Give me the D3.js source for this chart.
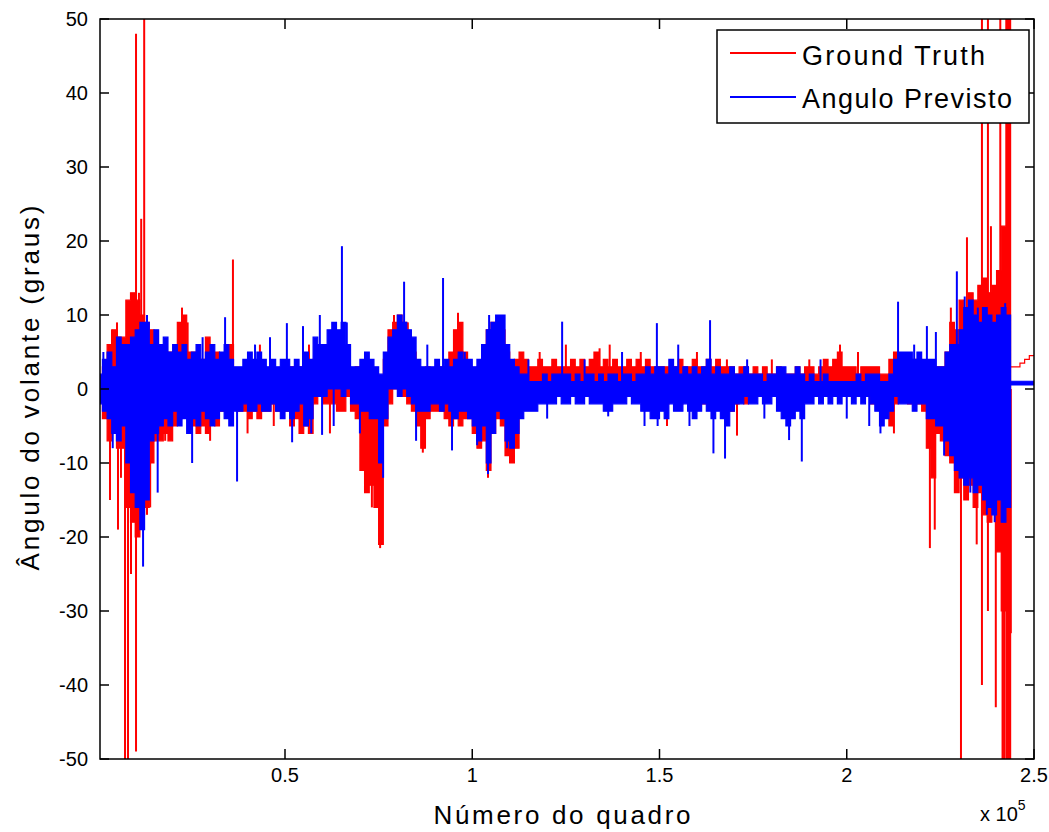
<!DOCTYPE html>
<html><head><meta charset="utf-8">
<script src="https://cdn.jsdelivr.net/npm/d3@7"></script>
<style>body{margin:0;background:#fff} svg{display:block}</style>
</head><body><svg id="c" width="1049" height="832"></svg>
<script>
// ---- data: envelope per bin of 1250 frames ----
const binSize = 1250;
const frameStart = 600, frameEnd = 250000;
const predLow = [
  -2,-3,-4,-6,-7,-5,-10,-14,-16,-19,-15,-7,-6,-5,-4,-5,-3,-5,-4,-6,
  -4,-5,-3,-4,-5,-4,-3,-4,-5,-3,-3,-2,-3,-3,-2,-3,-3,-2,-3,-4,
  -3,-4,-3,-2,-5,-4,-1,-1,-1,0,0,0,-1,0,-2,-2,-3,-3,-4,-4,
  -10,-4,0,0,-1,0,-1,-2,-3,-3,-3,-2,-2,-3,-2,-3,-4,-3,-3,-4,
  -5,-7,-5,-10,-6,-3,-4,-7,-8,-6,-4,-3,-3,-3,-2,-2,-2,-2,-1,-2,
  -2,-1,-2,-2,-1,-2,-2,-2,-3,-3,-2,-2,-2,-1,-2,-2,-3,-3,-4,-4,
  -3,-4,-2,-3,-3,-2,-3,-4,-3,-2,-3,-4,-3,-4,-5,-3,-2,-2,-1,-2,
  -2,-1,-2,-2,-1,-3,-4,-5,-4,-3,-4,-2,-2,-1,-2,-1,-2,-1,-2,-1,
  -1,-2,-1,-2,-1,-2,-3,-5,-4,-3,-1,-2,-2,-2,-3,-2,-2,-4,-4,-5,
  -5,-7,-9,-11,-12,-13,-12,-14,-13,-15,-16,-17,-15,-18,-16,0.55,0.55,0.55,0.55,0.55];
const predHigh = [
  2,4,5,3,7,6,6,7,8,9,9,6,8,6,7,5,6,5,6,4,
  5,6,4,5,6,4,5,6,4,3,3,4,5,4,5,4,3,4,3,4,
  4,3,4,3,5,4,7,6,6,8,9,8,9,6,3,3,4,5,4,3,
  2,5,7,8,10,9,8,7,4,3,3,3,4,3,4,3,4,5,4,4,
  3,4,6,8,9,10,10,6,4,3,2,2,1,1,1,2,1,2,2,2,
  2,1,2,1,2,2,1,2,1,2,2,1,2,2,1,2,2,3,2,3,
  3,2,4,3,2,3,2,3,2,3,4,2,3,2,2,3,2,2,3,2,
  2,2,1,2,2,3,3,2,2,3,2,1,2,1,1,2,1,1,1,1,
  1,1,2,1,2,2,2,1,1,2,4,5,5,5,4,5,4,4,4,3,
  3,5,6,6,8,11,12,10,9,11,10,9,10,11,10,1.05,1.05,1.05,1.05,1.05];
const gtLow = [
  -1,-4,-7,-6,-8,-8,-16,-18,-20,-17,-16,-10,-7,-7,-6,-7,-5,-4,-3,-4,
  -5,-6,-5,-6,-4,-5,-3,-3,-2,-2,-3,-3,-4,-3,-4,-3,-3,-2,-3,-3,
  -3,-5,-4,-6,-5,-6,-2,-1,-2,-2,-2,-3,-3,-1,-3,-4,-11,-14,-13,-16,
  -21,-5,-2,0,0,-1,-2,-3,-5,-8,-4,-3,-3,-3,-4,-5,-4,-5,-4,-4,
  -6,-8,-7,-11,-6,-4,-5,-9,-10,-8,-2,-1,-1,0,-1,0,-1,0,-1,0,
  -1,0,-1,-1,0,-1,-1,0,-1,-1,-1,0,-1,-1,0,-1,-1,-2,-1,-1,
  -1,-2,-1,-1,-2,-1,-2,-1,-1,-2,-1,-2,-1,-2,-2,-3,-2,-1,-2,-1,
  -1,-1,-1,0,-1,-1,-1,-2,-1,-1,-1,-1,0,0,-1,0,0,-1,0,0,
  0,-1,0,-1,-1,-2,-2,-3,-3,-5,-2,-1,-1,-2,-1,-2,-3,-8,-12,-6,
  -7,-9,-10,-14,-12,-15,-13,-16,-14,-17,-18,-16,-22,-30,-55,3,3,3.5,4,4.5];
const gtHigh = [
  1,3,6,8,7,7,12,13,12,10,9,8,5,5,4,5,4,9,10,5,
  5,4,4,7,3,5,4,3,6,2,2,2,1,2,1,2,1,2,1,2,
  2,3,3,3,2,3,4,5,5,5,5,6,4,3,2,3,2,2,1,2,
  1,4,8,9,10,9,7,5,3,2,3,2,2,3,3,5,8,9,5,3,
  2,3,5,8,9,8,8,5,3,4,5,4,3,3,4,3,3,4,3,3,
  3,4,3,4,3,4,5,3,4,3,4,3,3,4,3,4,3,4,3,3,
  3,3,2,3,4,3,3,4,3,3,4,3,4,3,3,3,2,3,3,2,
  3,2,3,2,2,3,2,2,2,3,2,3,3,2,3,4,3,4,5,3,
  3,3,2,3,3,3,3,2,2,4,5,4,4,4,4,4,3,3,2,3,
  3,5,9,8,12,11,13,12,14,15,13,14,16,22,55,3,3,3.5,4,4.5];
// isolated peaks [frame, value]
const gtSpikes = [[3270,-15],[3800,8],[5140,9],[5400,-19],[6200,-12],[7280,-55],[8080,-55],[8880,-25],
  [9500,12],[10220,48],[10220,-49],[11000,13],[11600,23],[12400,55],[13150,-17],[14000,-16],[18000,-7],
  [22500,11],[24000,9],[30000,-7],[36100,17.5],[40000,-6],[43300,6],[47000,-5],[56400,6],[62000,-6],
  [67000,6],[71600,-14],[73200,-16],[75400,-21.5],[79100,10],[80700,10],[82800,9],[86800,-8.6],
  [96200,10.3],[100500,-6],[104200,-12],[110100,-10],[118000,5],[125000,6],[134000,5.5],[136700,6],
  [145000,5],[152000,-5],[160000,5],[168000,4],[170700,-6.3],[180000,4],[190000,4],[198200,6],
  [203000,5],[212600,-6],[215000,4],[222200,-21.5],[223500,-19],[227800,11],[230500,-55],[232100,20.5],
  [234700,-21],[236100,55],[236100,-40],[237700,55],[237700,-30],[238500,22],[239800,-43],[241000,55],
  [241600,-55],[242000,-50],[243800,-33]];
const predSpikes = [[1500,5],[4000,-8],[12100,-24],[13150,10],[16000,-14],[25200,-10],[28000,7],
  [34000,9.7],[37200,-12.5],[42000,6],[46000,7],[50500,8.9],[51900,-7.2],[54800,8.5],[57000,-6],
  [59300,10],[59900,-6.2],[63000,-5],[65200,19.3],[66500,9],[70000,-6],[76200,-12],[81800,14.5],
  [85000,-7],[88000,6],[92200,15],[94600,-8.3],[98000,5],[101300,-7.6],[104200,-11.5],[104500,10],
  [109300,-8],[115000,4],[120000,-4],[124000,9.1],[130000,4],[136300,-3.7],[140000,5],[146000,-5],
  [149300,8.9],[149500,-5],[155000,6],[158000,-5],[163500,9.3],[164400,-8.7],[167500,-9.4],[173400,4],
  [178000,-4],[184600,-6.9],[188000,-9.8],[193000,4],[200000,-4],[206000,-5],[209000,-6],[213700,11.8],
  [218000,6],[221400,8.5],[223800,7.7],[226000,-9],[229400,15.9],[231500,12.5],[233000,-14],[235000,11],
  [237400,-17],[239500,-18],[242300,11.6],[243600,-14]];
const yTicks = [-50,-40,-30,-20,-10,0,10,20,30,40,50];
const xTicks = [50000,100000,150000,200000,250000];
const xTickLabels = ["0.5","1","1.5","2","2.5"];
const seriesNames = ["Ground Truth","Angulo Previsto"];
const seriesColors = ["#ff0000","#0000ff"];

// ---- drawing ----
const svg = d3.select("#c");
const L = 100, R = 1034, T = 19, B = 759;
const x = d3.scaleLinear().domain([frameStart, frameEnd]).range([L, R]);
const y = d3.scaleLinear().domain([-50, 50]).range([B, T]);
const font = "'Liberation Sans', Arial, sans-serif";

svg.append("rect").attr("width",1049).attr("height",832).attr("fill","#fff");
svg.append("defs").append("clipPath").attr("id","clip")
  .append("rect").attr("x",L).attr("y",T).attr("width",R-L).attr("height",B-T);

function bins(lo, hi){
  const pts = lo.map((v,i)=>({f:i*binSize, lo:v, hi:hi[i]}));
  pts.push({f:frameEnd, lo:lo[lo.length-1], hi:hi[hi.length-1]});
  return pts;
}
const area = d3.area().curve(d3.curveStepAfter)
  .x(d=>x(d.f)).y0(d=>y(d.lo)).y1(d=>y(d.hi));

const plot = svg.append("g").attr("clip-path","url(#clip)");
function drawSeries(lo, hi, spikes, color){
  plot.append("path").datum(bins(lo,hi)).attr("d",area)
    .attr("fill",color).attr("stroke",color).attr("stroke-width",1.2);
  plot.append("g").selectAll("line").data(spikes).join("line")
    .attr("x1",d=>x(d[0])).attr("x2",d=>x(d[0]))
    .attr("y1",y(0)).attr("y2",d=>y(d[1]))
    .attr("stroke",color).attr("stroke-width",2);
}
drawSeries(gtLow, gtHigh, gtSpikes, seriesColors[0]);
drawSeries(predLow, predHigh, predSpikes, seriesColors[1]);

// axes box
const ax = svg.append("g").attr("stroke","#000").attr("stroke-width",1.5).attr("fill","none");
ax.append("rect").attr("x",L).attr("y",T).attr("width",R-L).attr("height",B-T);
yTicks.forEach(v=>{
  ax.append("line").attr("x1",L).attr("x2",L+9).attr("y1",y(v)).attr("y2",y(v));
  ax.append("line").attr("x1",R).attr("x2",R-9).attr("y1",y(v)).attr("y2",y(v));
});
xTicks.forEach(v=>{
  ax.append("line").attr("x1",x(v)).attr("x2",x(v)).attr("y1",B).attr("y2",B-10);
  ax.append("line").attr("x1",x(v)).attr("x2",x(v)).attr("y1",T).attr("y2",T+10);
});
const tl = svg.append("g").attr("font-family",font).attr("font-size",20).attr("fill","#000");
yTicks.forEach(v=>{
  tl.append("text").attr("x",88).attr("y",y(v)+7).attr("text-anchor","end").text(v);
});
xTicks.forEach((v,i)=>{
  tl.append("text").attr("x",x(v)).attr("y",782).attr("text-anchor","middle").text(xTickLabels[i]);
});
const mult = tl.append("text").attr("x",980).attr("y",821);
mult.append("tspan").text("x 10");
mult.append("tspan").attr("font-size",14).attr("dy",-11).text("5");

svg.append("text").attr("x",562).attr("y",824).attr("text-anchor","middle")
  .attr("font-family",font).attr("font-size",26).attr("textLength",257).attr("lengthAdjust","spacing")
  .text("Número do quadro");
svg.append("text").attr("transform","translate(39,388) rotate(-90)").attr("text-anchor","middle")
  .attr("font-family",font).attr("font-size",26).attr("textLength",365).attr("lengthAdjust","spacing")
  .text("Ângulo do volante (graus)");

// legend
const lg = svg.append("g");
lg.append("rect").attr("x",717).attr("y",30).attr("width",312).attr("height",93)
  .attr("fill","#fff").attr("stroke","#000").attr("stroke-width",1.5);
const lgY = [53, 97], lgBase = [65, 108], lgLen = [183, 210];
seriesNames.forEach((n,i)=>{
  lg.append("line").attr("x1",730).attr("x2",796).attr("y1",lgY[i]).attr("y2",lgY[i])
    .attr("stroke",seriesColors[i]).attr("stroke-width",2);
  lg.append("text").attr("x",802).attr("y",lgBase[i]).attr("font-family",font).attr("font-size",27)
    .attr("textLength",lgLen[i]).attr("lengthAdjust","spacing").text(n);
});
</script></body></html>
